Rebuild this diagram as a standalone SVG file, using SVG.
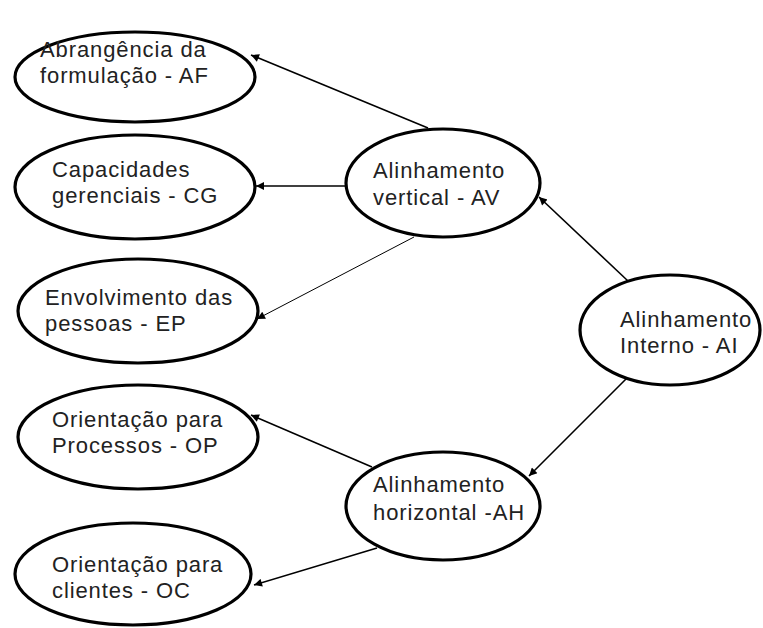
<svg xmlns="http://www.w3.org/2000/svg" width="763" height="628" viewBox="0 0 763 628">
<defs>
<marker id="arr" viewBox="0 0 10 10" refX="10" refY="5" markerWidth="10" markerHeight="8" markerUnits="userSpaceOnUse" orient="auto">
<path d="M0,0 L10,5 L0,10 Z" fill="#000"/>
</marker>
</defs>
<style>
.node ellipse{fill:#fff;stroke:#000;stroke-width:3.2}
.node text{font-family:"Liberation Sans",Arial,sans-serif;font-size:22px;fill:#222;letter-spacing:0.9px}
.edges line{stroke:#000;stroke-width:1.6;marker-end:url(#arr)}
.edges line.thin{stroke-width:1}
</style>
<rect width="763" height="628" fill="#fff"/>
<g class="edges" id="connectors">
<line x1="428" y1="128" x2="251" y2="55"/>
<line x1="347" y1="186" x2="256" y2="186"/>
<line class="thin" x1="414" y1="237" x2="257" y2="319"/>
<line x1="628" y1="281" x2="539" y2="197"/>
<line x1="627" y1="378" x2="529" y2="476"/>
<line x1="372" y1="467" x2="251" y2="415"/>
<line x1="377" y1="548" x2="254" y2="585"/>
</g>
<g class="node" id="AF">
<ellipse cx="135" cy="77" rx="120" ry="45"/>
<text x="40" y="57">Abrangência da</text>
<text x="40" y="83">formulação  - AF</text>
</g>
<g class="node" id="CG">
<ellipse cx="135" cy="187" rx="120" ry="52"/>
<text x="52" y="177">Capacidades</text>
<text x="52" y="203">gerenciais - CG</text>
</g>
<g class="node" id="EP">
<ellipse cx="138" cy="311" rx="120" ry="52"/>
<text x="45" y="305">Envolvimento das</text>
<text x="45" y="331">pessoas - EP</text>
</g>
<g class="node" id="OP">
<ellipse cx="138" cy="437" rx="120" ry="52"/>
<text x="52" y="427">Orientação para</text>
<text x="52" y="453">Processos - OP</text>
</g>
<g class="node" id="OC">
<ellipse cx="133" cy="574" rx="118" ry="51"/>
<text x="52" y="572">Orientação para</text>
<text x="52" y="598">clientes - OC</text>
</g>
<g class="node" id="AV">
<ellipse cx="443" cy="183" rx="97" ry="54"/>
<text x="373" y="178">Alinhamento</text>
<text x="373" y="205">vertical - AV</text>
</g>
<g class="node" id="AI">
<ellipse cx="670" cy="330" rx="90" ry="55"/>
<text x="620" y="327">Alinhamento</text>
<text x="620" y="353">Interno - AI</text>
</g>
<g class="node" id="AH">
<ellipse cx="443" cy="506" rx="97" ry="54"/>
<text x="373" y="492">Alinhamento</text>
<text x="373" y="520">horizontal -AH</text>
</g>
</svg>
